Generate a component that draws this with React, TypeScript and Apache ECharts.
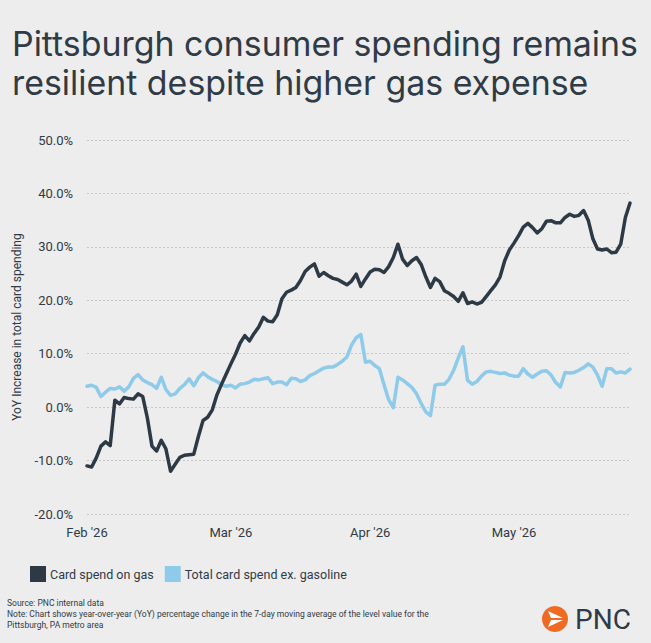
import React, { useEffect, useRef } from "react";
import * as echarts from "echarts";

// YoY % change, 7-day moving average, Pittsburgh metro
const GAS_SPEND = [
  -11.0, -11.2, -9.5, -7.3, -6.5, -7.2, 1.3, 0.6, 1.8, 1.6,
  1.5, 2.5, 2.0, -2.0, -7.3, -8.2, -6.2, -7.8, -12.0, -10.7,
  -9.4, -9.0, -8.9, -8.8, -5.5, -2.5, -1.9, -0.5, 2.3, 4.3,
  6.2, 8.1, 9.9, 12.0, 13.4, 12.4, 13.8, 15.0, 16.8, 16.1,
  16.0, 17.3, 20.3, 21.5, 21.9, 22.4, 23.7, 25.4, 26.2, 26.8,
  24.5, 25.2, 24.6, 24.1, 23.9, 23.4, 22.9, 23.6, 24.9, 22.6,
  24.0, 25.3, 25.8, 25.7, 25.2, 26.3, 28.0, 30.5, 27.7, 26.5,
  27.4, 28.0, 26.7, 24.4, 22.4, 24.1, 23.5, 21.8, 21.3, 20.7,
  19.8, 21.4, 19.4, 19.7, 19.3, 19.6, 20.7, 21.8, 22.9, 24.4,
  27.4, 29.4, 30.7, 32.1, 33.7, 34.4, 33.6, 32.6, 33.4, 34.8,
  34.9, 34.5, 34.5, 35.5, 36.1, 35.7, 35.9, 36.8, 35.0, 31.5,
  29.6, 29.4, 29.6, 28.9, 29.0, 30.5, 35.5, 38.2,
];

const EX_GAS_SPEND = [
  3.9, 4.1, 3.7, 2.0, 2.8, 3.5, 3.4, 3.8, 3.0, 3.8,
  5.4, 6.1, 5.1, 4.6, 4.2, 3.5, 5.6, 3.3, 2.2, 2.5,
  3.5, 4.2, 5.3, 4.0, 5.5, 6.4, 5.7, 5.2, 4.8, 4.2,
  3.9, 4.1, 3.6, 4.3, 4.4, 4.7, 5.2, 5.1, 5.3, 5.5,
  4.4, 4.7, 4.7, 4.2, 5.4, 5.3, 4.8, 5.1, 5.9, 6.3,
  6.8, 7.3, 7.5, 7.5, 8.0, 8.6, 9.4, 11.6, 13.0, 13.6,
  8.4, 8.6, 7.8, 7.2, 4.2, 1.4, -0.1, 5.6, 5.1, 4.4,
  3.7, 2.5, 0.7, -0.9, -1.6, 4.1, 4.3, 4.3, 5.2, 6.9,
  9.2, 11.3, 5.0, 4.3, 4.8, 5.8, 6.6, 6.7, 6.5, 6.3,
  6.4, 6.0, 5.8, 5.8, 7.2, 6.2, 5.6, 6.2, 6.7, 6.8,
  6.0, 4.6, 3.8, 6.5, 6.4, 6.5, 6.9, 7.4, 8.1, 7.5,
  6.0, 3.9, 7.2, 7.2, 6.4, 6.6, 6.4, 7.1,
];

const MONTH_LABELS = ["Feb '26", "Mar '26", "Apr '26", "May '26"];
const MONTH_TICK_INDEX = [0, 31, 61, 92];

const SERIES_NAMES = ["Card spend on gas", "Total card spend ex. gasoline"];

const Y_MIN = -20;
const Y_MAX = 50;
const Y_STEP = 10;

const INK = "#2f3b46";
const GAS_COLOR = "#2d3a45";
const EX_GAS_COLOR = "#8ecae9";
const PNC_ORANGE = "#ef6a22";

export default function App() {
  const ref = useRef<HTMLDivElement>(null);

  useEffect(() => {
    if (!ref.current) return;
    const chart = echarts.init(ref.current, undefined, { renderer: "svg" });
    const categories = GAS_SPEND.map((_, i) => String(i));
    const sans = "Roboto, 'Noto Sans', sans-serif";

    chart.setOption({
      animation: false,
      backgroundColor: "#ededed",
      grid: { left: 87, right: 21, top: 140, bottom: 129, containLabel: false },
      legend: {
        left: 30,
        top: 566,
        padding: 0,
        icon: "rect",
        itemWidth: 16,
        itemHeight: 16,
        itemGap: 11,
        selectedMode: false,
        textStyle: { color: INK, fontSize: 12.5, fontFamily: sans, padding: [0, 0, 0, -1] },
        data: SERIES_NAMES,
      },
      xAxis: {
        type: "category",
        data: categories,
        boundaryGap: false,
        axisLine: { show: false },
        axisTick: { show: false },
        splitLine: { show: false },
        axisLabel: {
          interval: (idx: number) => MONTH_TICK_INDEX.includes(idx),
          formatter: (_v: string, idx: number) => {
            const k = MONTH_TICK_INDEX.indexOf(idx);
            return k >= 0 ? MONTH_LABELS[k] : "";
          },
          color: INK,
          fontSize: 13,
          fontFamily: sans,
          margin: 12,
        },
      },
      yAxis: {
        type: "value",
        min: Y_MIN,
        max: Y_MAX,
        interval: Y_STEP,
        name: "YoY Increase in total card spending",
        nameLocation: "middle",
        nameRotate: 90,
        nameGap: 64,
        nameTextStyle: { color: INK, fontSize: 12, fontFamily: sans },
        axisLine: { show: false },
        axisTick: { show: false },
        axisLabel: {
          formatter: (v: number) => v.toFixed(1) + "%",
          color: INK,
          fontSize: 13,
          fontFamily: sans,
          margin: 14,
        },
        splitLine: {
          lineStyle: { color: "#c8c8c8", width: 1, type: [2, 2] },
        },
      },
      series: [
        {
          name: SERIES_NAMES[0],
          type: "line",
          data: GAS_SPEND,
          symbol: "none",
          color: GAS_COLOR,
          lineStyle: { width: 3.5, color: GAS_COLOR, cap: "round", join: "round" },
          z: 3,
        },
        {
          name: SERIES_NAMES[1],
          type: "line",
          data: EX_GAS_SPEND,
          symbol: "none",
          color: EX_GAS_COLOR,
          lineStyle: { width: 3.5, color: EX_GAS_COLOR, cap: "round", join: "round" },
          z: 2,
        },
      ],
      graphic: [
        {
          type: "text",
          left: 12,
          top: 24,
          style: {
            text: "Pittsburgh consumer spending remains\nresilient despite higher gas expense",
            fontSize: 33.9,
            lineHeight: 39,
            fontFamily: "Inter, 'Open Sans', sans-serif",
            fontWeight: 400,
            fill: INK,
          },
        },
        {
          type: "text",
          left: 7,
          top: 597,
          style: {
            text:
              "Source: PNC internal data\nNote: Chart shows year-over-year (YoY) percentage change in the 7-day moving average of the level value for the\nPittsburgh, PA metro area",
            fontSize: 8.5,
            lineHeight: 11,
            fontFamily: sans,
            fill: "#333b44",
          },
        },
        {
          type: "group",
          left: 542,
          top: 605,
          children: [
            { type: "circle", shape: { cx: 13, cy: 13, r: 13 }, style: { fill: PNC_ORANGE } },
            {
              type: "polygon",
              shape: { points: [[6, 5], [21, 12], [9, 12]] },
              style: { fill: "#ffffff" },
            },
            {
              type: "polygon",
              shape: { points: [[9, 14], [21, 14], [6, 21]] },
              style: { fill: "#ffffff" },
            },
            {
              type: "text",
              x: 33,
              y: 13,
              style: {
                text: "PNC",
                fontSize: 28,
                fontFamily: "Roboto, sans-serif",
                fill: INK,
                verticalAlign: "middle",
              },
            },
          ],
        },
      ],
    });

    return () => chart.dispose();
  }, []);

  return (
    <div
      ref={ref}
      style={{ position: "fixed", left: 0, top: 0, width: 651, height: 643, background: "#ededed" }}
    />
  );
}
